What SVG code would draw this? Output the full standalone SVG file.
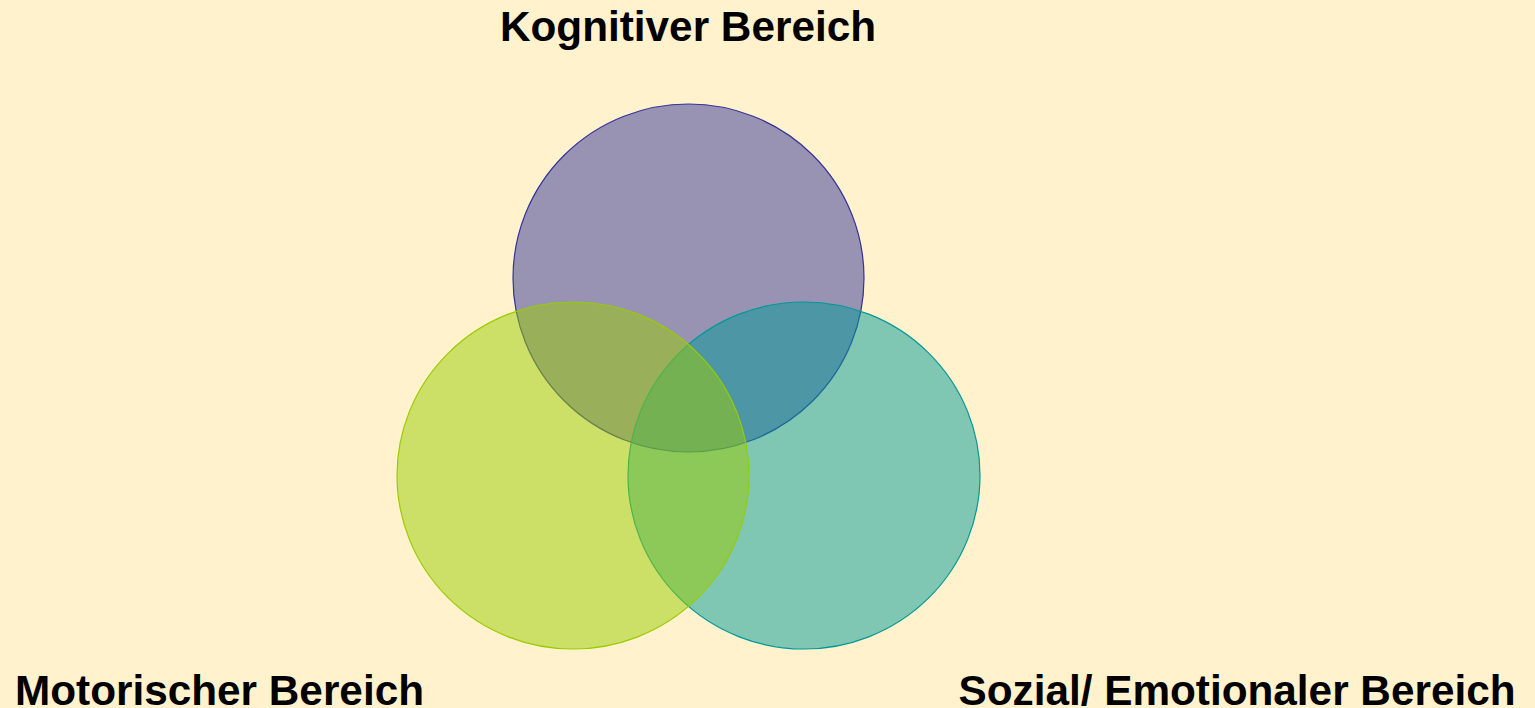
<svg xmlns="http://www.w3.org/2000/svg" width="1535" height="708" viewBox="0 0 1535 708">
<style>
.lbl{font-family:"Liberation Sans",Arial,sans-serif;font-weight:bold;font-size:42.3px;fill:#000;text-anchor:middle}
.c{fill-opacity:0.5;stroke-width:1.2}
</style>
<rect width="1535" height="708" fill="#FFF2CC"/>
<g id="kognitiv">
<ellipse class="c" cx="688.5" cy="278" rx="175.5" ry="174" fill="#333399" stroke="#333399"/>
</g>
<g id="sozial">
<ellipse class="c" cx="804" cy="475.5" rx="176" ry="173.5" fill="#009999" stroke="#009999"/>
</g>
<g id="motorisch">
<ellipse class="c" cx="573" cy="475.5" rx="176" ry="173.5" fill="#99CC00" stroke="#99CC00"/>
</g>
<g id="connectors"/>
<g id="labels">
<text class="lbl" x="688" y="41">Kognitiver Bereich</text>
<text class="lbl" x="219.5" y="705">Motorischer Bereich</text>
<text class="lbl" x="1237" y="705">Sozial/ Emotionaler Bereich</text>
</g>
</svg>
